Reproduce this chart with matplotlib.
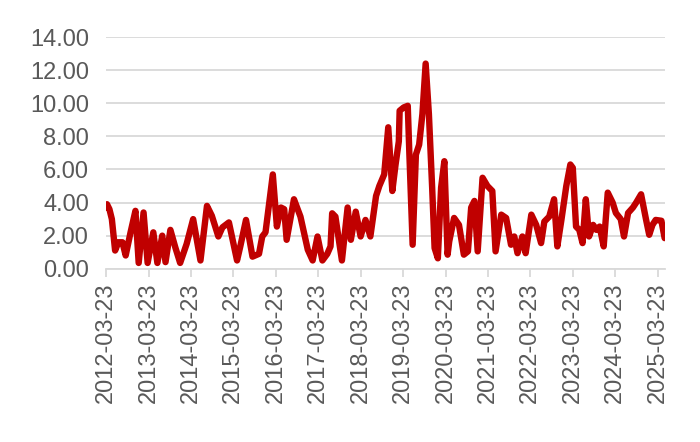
#!/usr/bin/env python3
"""Weekly series, 2012-03 .. 2025-05, single thick red line (Excel-style look)."""
import numpy as np
import pandas as pd
import matplotlib
matplotlib.use("Agg")
import matplotlib.pyplot as plt
import matplotlib.dates as mdates

START = "2012-03-23"

week_no = [0, 1, 4, 7, 11, 15, 20, 24, 30, 36, 40, 46, 51, 58, 63, 69, 73, 79, 85, 91,
           99, 107, 116, 124, 130, 138, 143, 151, 161, 165, 172, 180, 188, 192, 196, 205,
           210, 215, 219, 222, 231, 239, 248, 254, 260, 266, 272, 276, 278, 282, 290, 297,
           301, 307, 313, 319, 325, 332, 336, 342, 347, 352, 356, 360, 361, 366, 371, 373,
           377, 381, 385, 389, 393, 397, 401, 404, 408, 412, 416, 420, 422, 428, 434, 440,
           445, 449, 453, 457, 463, 469, 475, 479, 486, 492, 498, 502, 506, 512, 516, 523,
           529, 535, 539, 545, 551, 555, 560, 566, 571, 574, 578, 582, 586, 590, 594, 599,
           603, 607, 612, 617, 623, 627, 633, 637, 642, 648, 652, 658, 664, 668, 672, 676,
           683, 687]
values = [3.7, 3.9, 3.6, 3.0, 1.1, 1.6, 1.6, 0.8, 2.2, 3.5, 0.35, 3.4, 0.35, 2.2, 0.35,
          2.0, 0.4, 2.35, 1.3, 0.35, 1.5, 3.0, 0.5, 3.8, 3.2, 1.95, 2.5, 2.8, 0.5, 1.35,
          2.95, 0.73, 0.9, 1.95, 2.2, 5.7, 2.55, 3.7, 3.6, 1.75, 4.2, 3.15, 1.15, 0.5, 1.95,
          0.5, 0.9, 1.35, 3.35, 3.15, 0.5, 3.7, 1.75, 3.45, 1.95, 2.95, 1.95, 4.4, 5.0, 5.7,
          8.55, 4.7, 6.3, 7.7, 9.55, 9.75, 9.85, 6.9, 1.45, 6.9, 7.5, 9.35, 12.4, 9.35, 4.9,
          1.25, 0.63, 4.9, 6.5, 0.85, 1.65, 3.07, 2.65, 0.85, 1.05, 3.7, 4.1, 1.05, 5.5, 5.0,
          4.7, 1.05, 3.27, 3.07, 1.45, 1.95, 0.94, 1.95, 0.94, 3.27, 2.65, 1.55, 2.85, 3.15,
          4.2, 1.35, 2.95, 5.0, 6.3, 6.1, 2.55, 2.35, 1.55, 4.2, 1.95, 2.65, 2.35, 2.55, 1.35,
          4.6, 4.0, 3.37, 3.0, 1.95, 3.37, 3.7, 4.0, 4.5, 3.0, 2.05, 2.65, 2.95, 2.9, 1.85]
tick_dates = [f"{y}-03-23" for y in range(2012, 2026)]
y_ticks = [0, 2, 4, 6, 8, 10, 12, 14]

dates = pd.Timestamp(START) + pd.to_timedelta(np.array(week_no) * 7, unit="D")

plt.rcParams["font.family"] = ["Liberation Sans", "DejaVu Sans"]
GREY = "#595959"
GRID = "#d9d9d9"

fig = plt.figure(figsize=(7.0, 4.42), dpi=100)
ax = fig.add_axes([0.151, 0.392, 0.799, 0.524])
ax.plot(dates, values, color="#c00000", lw=4.6, solid_joinstyle="round",
        solid_capstyle="round", zorder=3)

ax.set_ylim(0, 14)
ax.set_yticks(y_ticks)
ax.set_yticklabels([f"{v:.2f}" for v in y_ticks])
ax.set_xlim(pd.Timestamp(START) - pd.Timedelta(days=4), dates[-1] + pd.Timedelta(days=3))
ax.set_xticks(pd.to_datetime(tick_dates))
ax.xaxis.set_major_formatter(mdates.DateFormatter("%Y-%m-%d"))

ax.grid(axis="y", color=GRID, lw=1.3, zorder=0)
for s in ("top", "right", "left"):
    ax.spines[s].set_visible(False)
ax.spines["bottom"].set_color(GRID)
ax.spines["bottom"].set_linewidth(1.3)
ax.tick_params(axis="y", length=0, pad=12, labelsize=17, labelcolor=GREY)
ax.tick_params(axis="x", length=6, width=1.3, color=GRID, pad=4,
               labelsize=17, labelcolor=GREY, labelrotation=90)

fig.savefig("out.png", dpi=100, facecolor="white")
plt.close(fig)
